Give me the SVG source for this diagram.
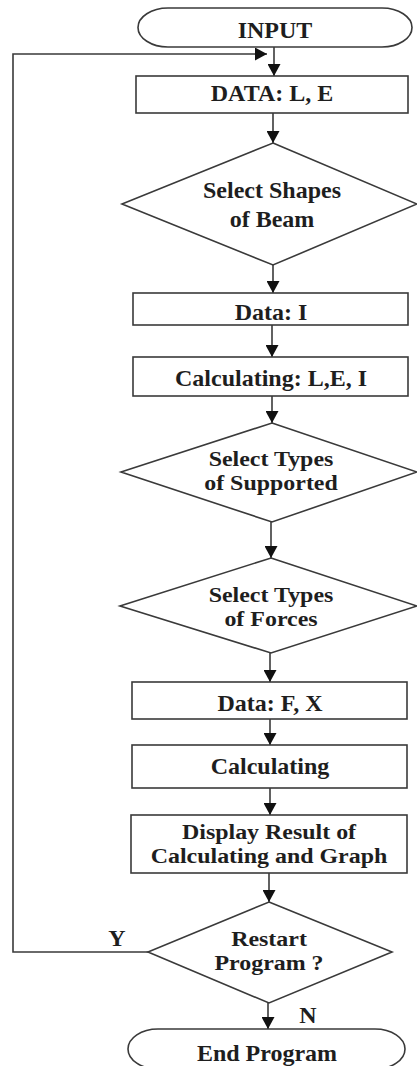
<svg xmlns="http://www.w3.org/2000/svg" width="417" height="1066" viewBox="0 0 417 1066">
<style>
.s{fill:#fff;stroke:#3a3a3a;stroke-width:1.6}
.t{font-family:"Liberation Serif","Times New Roman",serif;font-weight:bold;font-size:24px;fill:#1e1e1e;text-anchor:middle}
.t2{font-size:21px}
.c{fill:none;stroke:#3a3a3a;stroke-width:1.6}
</style>
<defs>
<marker id="ah" markerWidth="12" markerHeight="13" refX="12" refY="6.5" orient="auto" markerUnits="userSpaceOnUse">
<path d="M0,0 L12,6.5 L0,13 Z" fill="#111"/>
</marker>
</defs>
<rect width="417" height="1066" fill="#fff"/>
<g id="connectors">
<line class="c" x1="274" y1="47" x2="274" y2="76" marker-end="url(#ah)"/>
<line class="c" x1="273" y1="113" x2="273" y2="143" marker-end="url(#ah)"/>
<line class="c" x1="273" y1="265" x2="273" y2="293" marker-end="url(#ah)"/>
<line class="c" x1="272" y1="325" x2="272" y2="357" marker-end="url(#ah)"/>
<line class="c" x1="272" y1="396" x2="272" y2="423" marker-end="url(#ah)"/>
<line class="c" x1="271" y1="522" x2="271" y2="558" marker-end="url(#ah)"/>
<line class="c" x1="270" y1="653" x2="270" y2="682" marker-end="url(#ah)"/>
<line class="c" x1="270" y1="719" x2="270" y2="745" marker-end="url(#ah)"/>
<line class="c" x1="270" y1="788" x2="270" y2="815" marker-end="url(#ah)"/>
<line class="c" x1="269" y1="873" x2="269" y2="902" marker-end="url(#ah)"/>
<line class="c" x1="268" y1="1003" x2="268" y2="1029" marker-end="url(#ah)"/>
<polyline class="c" points="148,952 13,952 13,54 267,54" marker-end="url(#ah)"/>
<text class="t" x="117" y="946">Y</text>
<text class="t" x="308" y="1023">N</text>
</g>
<g id="input">
<rect class="s" x="138" y="8" width="274" height="39" rx="30" ry="19.5"/>
<text class="t" x="275" y="38">INPUT</text>
</g>
<g id="data-le">
<rect class="s" x="136" y="76" width="272" height="37"/>
<text class="t" x="272" y="101">DATA: L, E</text>
</g>
<g id="select-shapes">
<polygon class="s" points="273,143 417,204 273,265 122,204"/>
<text class="t" x="272" y="198">Select Shapes<tspan x="272" dy="29">of Beam</tspan></text>
</g>
<g id="data-i">
<rect class="s" x="133" y="293" width="275" height="32"/>
<text class="t" x="271" y="320">Data: I</text>
</g>
<g id="calc-lei">
<rect class="s" x="133" y="357" width="275" height="39"/>
<text class="t" x="271" y="386">Calculating: L,E, I</text>
</g>
<g id="select-supported">
<polygon class="s" points="272,423 417,472 272,522 121,472"/>
<text class="t t2" transform="translate(271,0) scale(1.14,1)" x="0" y="466">Select Types<tspan x="0" dy="24">of Supported</tspan></text>
</g>
<g id="select-forces">
<polygon class="s" points="271,558 417,606 271,653 120,606"/>
<text class="t t2" transform="translate(271,0) scale(1.14,1)" x="0" y="602">Select Types<tspan x="0" dy="24">of Forces</tspan></text>
</g>
<g id="data-fx">
<rect class="s" x="132" y="682" width="275" height="37"/>
<text class="t" x="270" y="711">Data: F, X</text>
</g>
<g id="calculating">
<rect class="s" x="132" y="745" width="275" height="43"/>
<text class="t" x="270" y="774">Calculating</text>
</g>
<g id="display">
<rect class="s" x="131" y="815" width="276" height="58"/>
<text class="t t2" transform="translate(269,0) scale(1.14,1)" x="0" y="839">Display Result of<tspan x="0" dy="24">Calculating and Graph</tspan></text>
</g>
<g id="restart">
<polygon class="s" points="269,902 392,952 269,1003 148,952"/>
<text class="t t2" transform="translate(269,0) scale(1.14,1)" x="0" y="946">Restart<tspan x="0" dy="24">Program ?</tspan></text>
</g>
<g id="end">
<rect class="s" x="128" y="1029" width="277" height="40" rx="30" ry="20"/>
<text class="t" x="267" y="1061">End Program</text>
</g>
</svg>
